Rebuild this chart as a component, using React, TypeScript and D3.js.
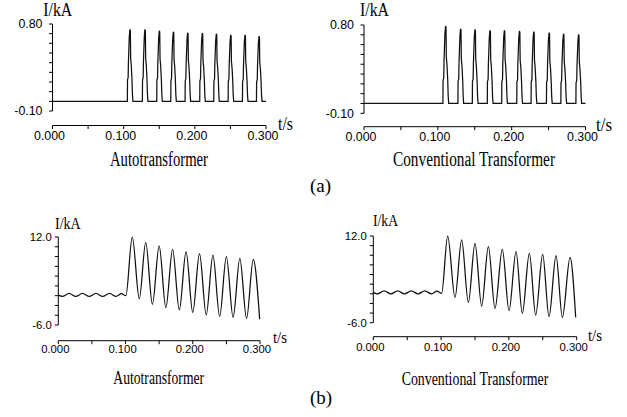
import React from 'react';
import * as d3 from 'd3';

// axis ticks
const X_TICKS = [0, 0.05, 0.1, 0.15, 0.2, 0.25, 0.3];
const X_LABELS = [0, 0.1, 0.2, 0.3];
const A_Y_TICKS = [-0.1, 0, 0.1, 0.2, 0.3, 0.4, 0.5, 0.6, 0.7, 0.8];
const A_Y_LABELS = [-0.1, 0.8];
const B_Y_TICKS = [-6, -4, -2, 0, 2, 4, 6, 8, 10, 12];
const B_Y_LABELS = [-6, 12];

// (a) inrush pulses: peak times / peak currents (kA)
const A_AUTO_PEAK_T = [0.1092, 0.1303, 0.1505, 0.1702, 0.1903, 0.2109, 0.2306, 0.2508, 0.2709, 0.2906];
const A_AUTO_PEAK_I = [0.744, 0.744, 0.73, 0.72, 0.709, 0.706, 0.699, 0.688, 0.688, 0.674];
const A_CONV_PEAK_T = [0.1109, 0.1312, 0.1507, 0.171, 0.1905, 0.2109, 0.2303, 0.2511, 0.2706, 0.291];
const A_CONV_PEAK_I = [0.79, 0.762, 0.756, 0.746, 0.746, 0.739, 0.732, 0.722, 0.711, 0.705];
// one pulse, offset from peak (s) and fraction of the peak
const PULSE_DT = [-0.004, -0.0038, -0.0029, -0.0025, -0.0013, -0.0004, 0.0002, 0.0006, 0.0015, 0.0025, 0.0031, 0.0038];
const PULSE_FRAC = [0, 0.3, 0.33, 0.55, 0.9, 1.0, 0.98, 0.6, 0.5, 0.3, 0.1, 0];

// (b) fault current: ripple before 0.1 s, then peaks and troughs
const B_AUTO_T = [0, 0.006, 0.016, 0.026, 0.036, 0.046, 0.056, 0.066, 0.076, 0.086, 0.094, 0.1005,
  0.11, 0.1205, 0.13, 0.14, 0.15, 0.16, 0.17, 0.18, 0.19, 0.2, 0.21, 0.22, 0.23, 0.24, 0.25, 0.26, 0.27, 0.28, 0.29, 0.2995];
const B_AUTO_I = [0.1, -0.15, 0.45, -0.15, 0.45, -0.15, 0.45, -0.15, 0.45, -0.15, 0.4, 0.0,
  12.0, -0.62, 10.9, -1.77, 10.2, -2.44, 9.45, -2.92, 8.97, -3.44, 8.6, -3.92, 8.3, -4.25, 7.97, -4.45, 7.63, -4.65, 7.4, -4.8];
const B_CONV_T = [0, 0.006, 0.016, 0.026, 0.036, 0.046, 0.056, 0.066, 0.076, 0.086, 0.094, 0.1008,
  0.1097, 0.1205, 0.1303, 0.1402, 0.15, 0.1598, 0.1697, 0.1795, 0.1903, 0.2002, 0.2105, 0.2198, 0.2302, 0.2395, 0.2498, 0.2592, 0.2695, 0.2789, 0.2902, 0.2985];
const B_CONV_I = [0.3, 0.0, 0.6, 0.0, 0.6, 0.0, 0.6, 0.0, 0.6, 0.0, 0.55, 0.1,
  12.0, -0.74, 11.17, -1.78, 10.48, -2.54, 9.78, -3.02, 9.23, -3.51, 8.75, -4.06, 8.4, -4.41, 8.19, -4.75, 7.92, -4.89, 7.57, -4.9];

function pulseTrain(peakT: number[], peakI: number[]): [number, number][] {
  const pts: [number, number][] = [[0, 0]];
  peakT.forEach((t, i) => {
    PULSE_DT.forEach((dt, j) => pts.push([t + dt, peakI[i] * PULSE_FRAC[j]]));
  });
  pts.push([0.3, 0]);
  return pts;
}

const zip = (t: number[], v: number[]) => t.map((x, i) => [x, v[i]] as [number, number]);

const SERIF = '"Liberation Serif", "Times New Roman", serif';
const SANS = '"Liberation Sans", Arial, sans-serif';

type PanelCfg = {
  x0: number; x1: number; yTop: number; yBot: number; xAxisY: number;
  yDomain: [number, number]; yTicks: number[]; yLabels: number[]; yDigits: number;
  yLabelGap: number; numSize: number; xLabelBase: number;
  unit: { x: number; y: number; w: number; size: number };
  ts: { x: number; y: number; w: number; size: number };
  title: { text: string; cx: number; y: number; w: number; size: number };
  data: [number, number][]; curve: d3.CurveFactory;
};

function Panel({ c }: { c: PanelCfg }) {
  const x = d3.scaleLinear().domain([0, 0.3]).range([c.x0, c.x1]);
  const y = d3.scaleLinear().domain(c.yDomain).range([c.yBot, c.yTop]);
  const line = d3.line<[number, number]>().x((d) => x(d[0])).y((d) => y(d[1])).curve(c.curve);
  return (
    <g>
      {/* y axis */}
      <line x1={c.x0} x2={c.x0} y1={y(c.yDomain[1])} y2={y(c.yDomain[0])} stroke="#000" />
      {c.yTicks.map((t) => (
        <line key={t} x1={c.x0 - 3.5} x2={c.x0} y1={y(t)} y2={y(t)} stroke="#000" />
      ))}
      {c.yLabels.map((t) => (
        <text key={t} x={c.x0 - c.yLabelGap} y={y(t)} dy="0.36em" textAnchor="end"
          fontFamily={SANS} fontSize={c.numSize}>{t.toFixed(c.yDigits)}</text>
      ))}
      {/* x axis */}
      <line x1={c.x0} x2={c.x1} y1={c.xAxisY} y2={c.xAxisY} stroke="#000" />
      {X_TICKS.map((t) => (
        <line key={t} x1={x(t)} x2={x(t)} y1={c.xAxisY} y2={c.xAxisY + 3.5} stroke="#000" />
      ))}
      {X_LABELS.map((t) => (
        <text key={t} x={x(t) - 3} y={c.xLabelBase} textAnchor="middle"
          fontFamily={SANS} fontSize={c.numSize}>{t.toFixed(3)}</text>
      ))}
      <text x={c.unit.x} y={c.unit.y} fontFamily={SERIF} fontSize={c.unit.size}
        textLength={c.unit.w} lengthAdjust="spacingAndGlyphs">I/kA</text>
      <text x={c.ts.x} y={c.ts.y} fontFamily={SERIF} fontSize={c.ts.size}
        textLength={c.ts.w} lengthAdjust="spacingAndGlyphs">t/s</text>
      <text x={c.title.cx - c.title.w / 2} y={c.title.y} fontFamily={SERIF} fontSize={c.title.size}
        textLength={c.title.w} lengthAdjust="spacingAndGlyphs">{c.title.text}</text>
      <path d={line(c.data) || ''} fill="none" stroke="#111" strokeWidth={1.25} />
    </g>
  );
}

const panels: PanelCfg[] = [
  {
    x0: 52.5, x1: 266, yTop: 24, yBot: 111, xAxisY: 125.5,
    yDomain: [-0.1, 0.8], yTicks: A_Y_TICKS, yLabels: A_Y_LABELS, yDigits: 2,
    yLabelGap: 10, numSize: 12.4, xLabelBase: 140,
    unit: { x: 43.3, y: 16, w: 29, size: 19 },
    ts: { x: 278, y: 130, w: 15, size: 19 },
    title: { text: 'Autotransformer', cx: 159, y: 166, w: 98, size: 20 },
    data: pulseTrain(A_AUTO_PEAK_T, A_AUTO_PEAK_I), curve: d3.curveLinear,
  },
  {
    x0: 364, x1: 585.5, yTop: 25, yBot: 113.3, xAxisY: 126.7,
    yDomain: [-0.1, 0.8], yTicks: A_Y_TICKS, yLabels: A_Y_LABELS, yDigits: 2,
    yLabelGap: 10, numSize: 12.4, xLabelBase: 140.5,
    unit: { x: 360, y: 16, w: 29, size: 19 },
    ts: { x: 596, y: 131, w: 16, size: 19 },
    title: { text: 'Conventional Transformer', cx: 474, y: 166, w: 162, size: 20 },
    data: pulseTrain(A_CONV_PEAK_T, A_CONV_PEAK_I), curve: d3.curveLinear,
  },
  {
    x0: 58.3, x1: 260, yTop: 237, yBot: 325, xAxisY: 340.7,
    yDomain: [-6, 12], yTicks: B_Y_TICKS, yLabels: B_Y_LABELS, yDigits: 1,
    yLabelGap: 6.5, numSize: 11.3, xLabelBase: 353,
    unit: { x: 55, y: 229, w: 25.7, size: 17 },
    ts: { x: 273, y: 343, w: 14, size: 17 },
    title: { text: 'Autotransformer', cx: 158.7, y: 384, w: 90.7, size: 18 },
    data: zip(B_AUTO_T, B_AUTO_I), curve: d3.curveMonotoneX,
  },
  {
    x0: 373.3, x1: 576.7, yTop: 236, yBot: 322.7, xAxisY: 336.7,
    yDomain: [-6, 12], yTicks: B_Y_TICKS, yLabels: B_Y_LABELS, yDigits: 1,
    yLabelGap: 6.5, numSize: 11.3, xLabelBase: 351,
    unit: { x: 373, y: 226, w: 25, size: 17 },
    ts: { x: 588, y: 341, w: 14, size: 17 },
    title: { text: 'Conventional Transformer', cx: 475, y: 385, w: 146.7, size: 18 },
    data: zip(B_CONV_T, B_CONV_I), curve: d3.curveMonotoneX,
  },
];

export default function App() {
  return (
    <svg width={627} height={417} style={{ position: 'absolute', left: 0, top: 0, background: '#fff' }}>
      {panels.map((p, i) => <Panel key={i} c={p} />)}
      <text x={310} y={192} fontFamily={SERIF} fontSize={19}>(a)</text>
      <text x={310} y={404} fontFamily={SERIF} fontSize={19}>(b)</text>
    </svg>
  );
}
